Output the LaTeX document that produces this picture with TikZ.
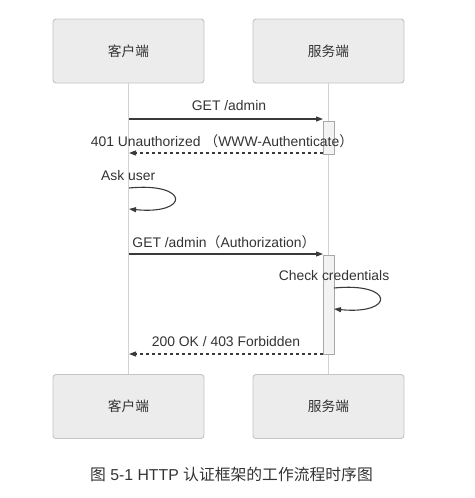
\documentclass[tikz,border=0pt]{standalone}
\usepackage{fontspec}
\setmainfont{Liberation Sans}
\newfontfamily\cjk{Noto Sans CJK SC}
\usetikzlibrary{arrows.meta}
\definecolor{boxfill}{HTML}{ECECEC}
\definecolor{boxdraw}{HTML}{C4C4C4}
\definecolor{lifeline}{HTML}{D2D2D2}
\definecolor{msg}{HTML}{3A3A3A}
\definecolor{txt}{HTML}{333333}
\definecolor{actfill}{HTML}{F3F3F3}
\definecolor{actdraw}{HTML}{A8A8A8}
\tikzset{
  x=1pt, y=-1pt,
  actor/.style={draw=boxdraw, fill=boxfill, rounded corners=3pt, line width=0.9pt,
    minimum width=151pt, minimum height=64pt, text=txt, font=\cjk\fontsize{13.7}{15}\selectfont, inner sep=0pt},
  life/.style={draw=lifeline, line width=1pt},
  call/.style={draw=msg, line width=1.1pt, -{Triangle[length=7pt,width=5pt]}},
  reply/.style={draw=msg, line width=1.1pt, dash pattern=on 3pt off 3pt, -{Triangle[length=7pt,width=5pt]}},
  lbl/.style={text=txt, font=\fontsize{13.9}{15}\selectfont, inner sep=0pt},
  act/.style={draw=actdraw, fill=actfill, line width=0.9pt},
}
\begin{document}
\begin{tikzpicture}
\useasboundingbox (0,0) rectangle (474,498);
% actors
\node[actor] (ct) at (128.5,51) {客户端};
\node[actor] (st) at (328.5,51) {服务端};
\node[actor] (cb) at (128.5,406.5) {客户端};
\node[actor] (sb) at (328.5,406.5) {服务端};
% lifelines
\draw[life] (ct.south) -- (cb.north);
\draw[life] (st.south) -- (sb.north);
% activation boxes
\draw[act] (323,121) rectangle (334,154);
\draw[act] (323,255) rectangle (334,354);
% coordinates
\coordinate (c1) at (129,119); \coordinate (s1) at (323,119);
\coordinate (s2) at (323,153); \coordinate (c2) at (129,153);
\coordinate (c3a) at (129,188); \coordinate (c3b) at (129,209);
\coordinate (c4) at (129,254); \coordinate (s4) at (323,254);
\coordinate (s5a) at (334,288); \coordinate (s5b) at (334,309);
\coordinate (s6) at (323,354); \coordinate (c6) at (129,354);
% messages
\draw[call] (c1) -- (s1);
\node[lbl] (l1) at (229,106) {GET /admin};
\draw[reply] (s2) -- (c2);
\node[lbl] (l2) at (222,141) {401 Unauthorized {\cjk （}WWW-Authenticate{\cjk ）}};
\draw[call] (c3a) .. controls (190,182) and (190,215) .. (c3b);
\node[lbl, anchor=west] (l3) at (101,176) {Ask user};
\draw[call] (c4) -- (s4);
\node[lbl] (l4) at (224,242) {GET /admin{\cjk （}Authorization{\cjk ）}};
\draw[call] (s5a) .. controls (395,282) and (395,315) .. (s5b);
\node[lbl] (l5) at (334,276) {Check credentials};
\draw[reply] (s6) -- (c6);
\node[lbl] (l6) at (226,342) {200 OK / 403 Forbidden};
% caption
\node[text=txt, font=\fontsize{15.8}{17}\selectfont, inner sep=0pt] (cap) at (231.5,474) {{\cjk 图} 5-1 HTTP {\cjk 认证框架的工作流程时序图}};
\end{tikzpicture}
\end{document}
